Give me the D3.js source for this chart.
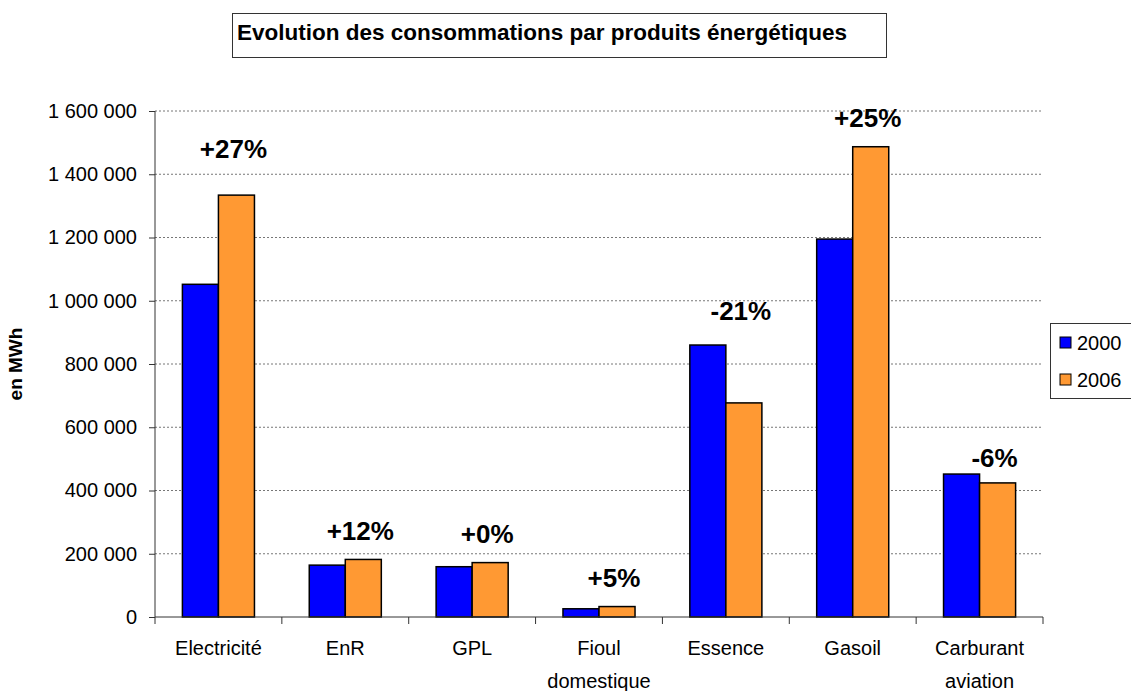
<!DOCTYPE html>
<meta charset="utf-8">
<style>
    body { margin: 0; background: #fff; }
    text { font-family: "Liberation Sans", Arial, sans-serif; fill: #000; }
    .grid line { stroke: #777; stroke-dasharray: 2,2; }
    .axis path, .axis line { stroke: #333; }
    .bar { stroke: #000; stroke-width: 1.5px; }
</style>
<svg width="1131" height="691"></svg>
<script src="https://d3js.org/d3.v7.min.js"></script>
<script>

    var categories = ["Electricité", "EnR", "GPL", "Fioul domestique", "Essence", "Gasoil", "Carburant aviation"];
    var categoryLines = [["Electricité"], ["EnR"], ["GPL"], ["Fioul", "domestique"], ["Essence"], ["Gasoil"], ["Carburant", "aviation"]];
    var years = ["2000", "2006"];
    var values2000 = [1052000, 164000, 159000, 26000, 860000, 1195000, 452000];
    var values2006 = [1334000, 182000, 172000, 33000, 677000, 1487000, 424000];
    var changes = ["+27%", "+12%", "+0%", "+5%", "-21%", "+25%", "-6%"];
    // where each change label sits, in MWh
    var changeAt = [1450000, 243000, 234000, 95000, 939000, 1549000, 474000];
    var yTicks = [0, 200000, 400000, 600000, 800000, 1000000, 1200000, 1400000, 1600000];
    var colors = ["#0000ff", "#ff9933"];

    var svg = d3.select("svg"),
        margin = {top: 111, right: 88, bottom: 74, left: 155},
        width = +svg.attr("width") - margin.left - margin.right,
        height = +svg.attr("height") - margin.top - margin.bottom;

    var x = d3.scaleBand().domain(categories).range([0, width]);
    var bw = x.bandwidth();
    var x1 = d3.scaleBand().domain(years).range([bw * 0.216, bw * 0.784]);
    var y = d3.scaleLinear().domain([0, 1600000]).range([height, 0]);

    var fmt = function(d) { return d3.format(",")(d).replace(/,/g, " "); };

    var g = svg.append("g")
        .attr("transform", "translate(" + margin.left + "," + margin.top + ")");

    // gridlines
    g.append("g")
        .attr("class", "grid")
        .selectAll("line")
        .data(yTicks.slice(1))
        .enter().append("line")
        .attr("x1", 0).attr("x2", width)
        .attr("y1", function(d) { return y(d); })
        .attr("y2", function(d) { return y(d); });

    // bars
    var rows = categories.map(function(c, i) {
        return {cat: c, vals: [values2000[i], values2006[i]]};
    });

    var groups = g.selectAll(".cat")
        .data(rows)
        .enter().append("g")
        .attr("class", "cat")
        .attr("transform", function(d) { return "translate(" + x(d.cat) + ",0)"; });

    groups.selectAll("rect")
        .data(function(d) { return d.vals.map(function(v, j) { return {year: years[j], v: v, j: j}; }); })
        .enter().append("rect")
        .attr("class", "bar")
        .attr("x", function(d) { return x1(d.year); })
        .attr("width", x1.bandwidth())
        .attr("y", function(d) { return y(d.v); })
        .attr("height", function(d) { return height - y(d.v); })
        .attr("fill", function(d) { return colors[d.j]; });

    // change labels
    groups.append("text")
        .attr("x", bw / 2 + 15)
        .attr("y", function(d, i) { return y(changeAt[i]); })
        .attr("text-anchor", "middle")
        .style("font-size", "26px")
        .style("font-weight", "bold")
        .text(function(d, i) { return changes[i]; });

    // y axis
    var yAxis = g.append("g")
        .attr("class", "axis")
        .call(d3.axisLeft(y).tickValues(yTicks).tickFormat(fmt).tickSize(6).tickPadding(12));
    yAxis.select(".domain").attr("d", "M0," + height + "V0");
    yAxis.selectAll("text").style("font-size", "20px");

    // x axis
    var xAxis = g.append("g")
        .attr("class", "axis")
        .attr("transform", "translate(0," + height + ")");
    xAxis.append("line").attr("x1", 0).attr("x2", width);
    xAxis.selectAll(".tk")
        .data(d3.range(categories.length + 1))
        .enter().append("line")
        .attr("x1", function(i) { return i * bw; })
        .attr("x2", function(i) { return i * bw; })
        .attr("y1", 0).attr("y2", 7);
    var lab = xAxis.selectAll(".lab")
        .data(categories)
        .enter().append("text")
        .attr("text-anchor", "middle")
        .attr("transform", function(d) { return "translate(" + (x(d) + bw / 2) + ",38)"; })
        .style("font-size", "20px");
    lab.selectAll("tspan")
        .data(function(d, i) { return categoryLines[i]; })
        .enter().append("tspan")
        .attr("x", 0)
        .attr("dy", function(d, i) { return i ? 33 : 0; })
        .text(function(d) { return d; });

    // y title
    svg.append("text")
        .attr("transform", "translate(22,364) rotate(-90)")
        .attr("text-anchor", "middle")
        .style("font-size", "19px")
        .style("font-weight", "bold")
        .text("en MWh");

    // title
    svg.append("rect")
        .attr("x", 232.5).attr("y", 13.5).attr("width", 654).attr("height", 44)
        .attr("fill", "#fff").attr("stroke", "#333");
    svg.append("text")
        .attr("x", 237).attr("y", 40)
        .style("font-size", "22.5px")
        .style("font-weight", "bold")
        .text("Evolution des consommations par produits énergétiques");

    // legend
    var legend = svg.append("g").attr("transform", "translate(1050,323)");
    legend.append("rect")
        .attr("x", 0.5).attr("y", 0.5).attr("width", 90).attr("height", 75)
        .attr("fill", "#fff").attr("stroke", "#333");
    var items = legend.selectAll(".item")
        .data(years)
        .enter().append("g")
        .attr("transform", function(d, i) { return "translate(10," + (14 + i * 37) + ")"; });
    items.append("rect")
        .attr("width", 11).attr("height", 11)
        .attr("fill", function(d, i) { return colors[i]; })
        .attr("stroke", "#000");
    items.append("text")
        .attr("x", 17).attr("y", 13)
        .style("font-size", "20px")
        .text(function(d) { return d; });

</script>
